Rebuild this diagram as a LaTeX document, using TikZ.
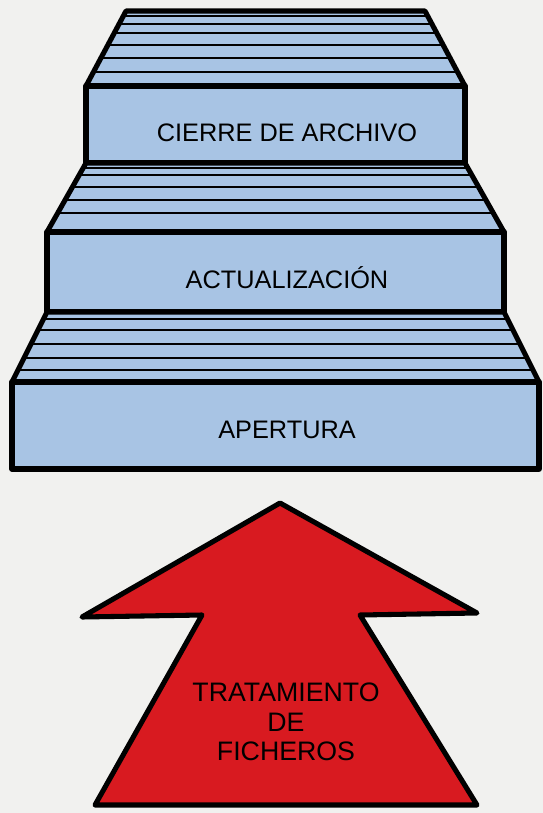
\documentclass[tikz,border=0pt]{standalone}
\usepackage{fontspec}
\setmainfont{Liberation Sans}
\definecolor{stepblue}{RGB}{168,196,228}
\definecolor{arrowred}{RGB}{216,26,32}
\definecolor{paper}{RGB}{241,241,239}
\tikzset{
  outline/.style={line width=3.6pt, line join=round},
  tread/.style={line width=1.4pt},
  steptext/.style={font=\fontsize{18}{21}\selectfont, anchor=base, text=black},
}
\begin{document}
\begin{tikzpicture}[x=0.025cm, y=-0.025cm]
	\fill[paper] (0,0) rectangle (543,813);
	\useasboundingbox (0,0) rectangle (543,813);
	% top step
	\begin{scope}
		\clip (126,11) -- (425,11) -- (465,86) -- (86,86) -- cycle;
		\fill[stepblue] (0,0) rectangle (543,100);
		\foreach \y in {16,24,33,45,58,72} \draw[tread] (0,\y) -- (543,\y);
	\end{scope}
	\draw[outline] (126,11) -- (425,11) -- (465,86) -- (86,86) -- cycle;
	\draw[outline,fill=stepblue] (86,86) rectangle (465,163);
	\node[steptext] (cierre) at (287,142) {CIERRE DE ARCHIVO};
	% middle step
	\begin{scope}
		\clip (86,163) -- (465,163) -- (504,232) -- (47,232) -- cycle;
		\fill[stepblue] (0,150) rectangle (543,240);
		\foreach \y in {168,175,187,200,213} \draw[tread] (0,\y) -- (543,\y);
	\end{scope}
	\draw[outline] (86,163) -- (465,163) -- (504,232) -- (47,232) -- cycle;
	\draw[outline,fill=stepblue] (47,232) rectangle (504,312);
	\node[steptext] (actual) at (287,288) {ACTUALIZACIÓN};
	% bottom step
	\begin{scope}
		\clip (47,312) -- (504,312) -- (539,382) -- (12,382) -- cycle;
		\fill[stepblue] (0,300) rectangle (543,390);
		\foreach \y in {319,330,344,358,370} \draw[tread] (0,\y) -- (543,\y);
	\end{scope}
	\draw[outline] (47,312) -- (504,312) -- (539,382) -- (12,382) -- cycle;
	\draw[outline,fill=stepblue] (12,382) rectangle (539,469);
	\node[steptext] (apertura) at (287,438) {APERTURA};
	% arrow
	\draw[outline,fill=arrowred] (280,503) -- (477,613) -- (360,615) -- (477,805)
		-- (95,805) -- (202,615) -- (82,617) -- cycle;
	\node[steptext, font=\fontsize{19}{21}\selectfont, align=center, anchor=center]
		(tratamiento) at (286,722) {TRATAMIENTO\\DE\\FICHEROS};
\end{tikzpicture}
\end{document}
